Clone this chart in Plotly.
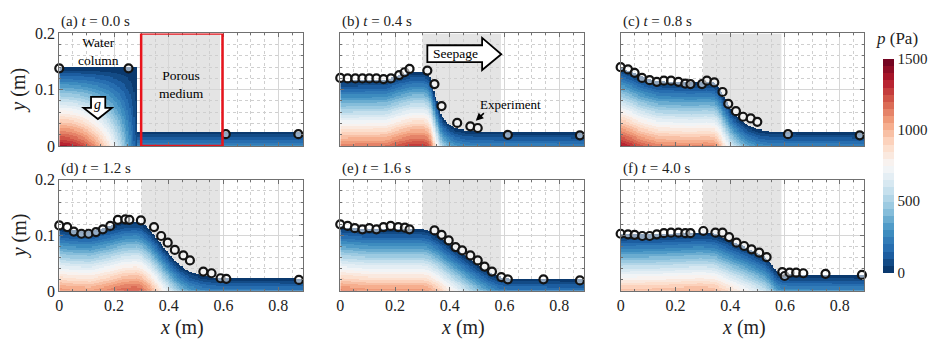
import numpy as np
import plotly.graph_objects as go

W, H = 930, 354
FONT = "Liberation Serif"

# ---------------- data ----------------
titles = ["(a) <i>t</i> = 0.0 s", "(b) <i>t</i> = 0.4 s", "(c) <i>t</i> = 0.8 s",
          "(d) <i>t</i> = 1.2 s", "(e) <i>t</i> = 1.6 s", "(f) <i>t</i> = 4.0 s"]

# simulated free-surface profiles (x in m, height in m)
surf_x_a = [0.0, 0.283, 0.2831, 0.89]
surf_h_a = [0.140, 0.140, 0.0265, 0.0265]
surf_x_b = [0.0, 0.166, 0.215, 0.263, 0.305, 0.324, 0.336, 0.348, 0.36, 0.372, 0.396, 0.421, 0.457, 0.505, 0.89]
surf_h_b = [0.1167, 0.118, 0.126, 0.132, 0.132, 0.126, 0.110, 0.087, 0.066, 0.052, 0.039, 0.032, 0.028, 0.0265, 0.025]
surf_x_c = [0.0, 0.027, 0.075, 0.136, 0.257, 0.312, 0.342, 0.36, 0.378, 0.402, 0.433, 0.463, 0.499, 0.548, 0.89]
surf_h_c = [0.140, 0.135, 0.124, 0.1155, 0.113, 0.1144, 0.113, 0.104, 0.087, 0.066, 0.049, 0.038, 0.030, 0.0265, 0.025]
surf_x_d = [0.0, 0.04, 0.113, 0.186, 0.235, 0.283, 0.30, 0.331, 0.368, 0.404, 0.44, 0.477, 0.525, 0.574, 0.89]
surf_h_d = [0.1126, 0.110, 0.1086, 0.1166, 0.1234, 0.125, 0.122, 0.1097, 0.0869, 0.064, 0.0457, 0.0343, 0.0269, 0.024, 0.0229]
surf_x_e = [0.0, 0.105, 0.30, 0.324, 0.36, 0.396, 0.433, 0.469, 0.505, 0.542, 0.578, 0.615, 0.89]
surf_h_e = [0.1154, 0.1114, 0.1114, 0.1086, 0.098, 0.084, 0.071, 0.058, 0.0457, 0.0343, 0.0257, 0.0229, 0.0217]
surf_x_f = [0.0, 0.136, 0.293, 0.342, 0.378, 0.415, 0.451, 0.487, 0.524, 0.548, 0.566, 0.59, 0.645, 0.89]
surf_h_f = [0.101, 0.102, 0.105, 0.103, 0.0954, 0.0869, 0.0794, 0.0709, 0.0611, 0.0497, 0.0366, 0.0297, 0.0286, 0.028]

# experiment points
exp_x_a = [0.0, 0.253, 0.608, 0.873]
exp_y_a = [0.138, 0.138, 0.021, 0.021]
exp_x_b = [0.0, 0.027, 0.055, 0.081, 0.106, 0.132, 0.158, 0.185, 0.215, 0.235, 0.253, 0.318, 0.344, 0.370, 0.427, 0.475, 0.502, 0.612, 0.875]
exp_y_b = [0.121, 0.120, 0.120, 0.120, 0.120, 0.120, 0.119, 0.120, 0.126, 0.131, 0.137, 0.134, 0.110, 0.071, 0.041, 0.035, 0.032, 0.020, 0.019]
exp_x_c = [0.0, 0.027, 0.051, 0.078, 0.106, 0.132, 0.158, 0.184, 0.211, 0.236, 0.255, 0.297, 0.315, 0.342, 0.372, 0.393, 0.421, 0.447, 0.475, 0.499, 0.611, 0.873]
exp_y_c = [0.140, 0.136, 0.130, 0.121, 0.117, 0.114, 0.116, 0.116, 0.114, 0.111, 0.110, 0.110, 0.116, 0.113, 0.096, 0.075, 0.062, 0.052, 0.049, 0.043, 0.021, 0.019]
exp_x_d = [0.0, 0.029, 0.053, 0.081, 0.107, 0.134, 0.159, 0.186, 0.214, 0.241, 0.256, 0.298, 0.346, 0.372, 0.396, 0.422, 0.453, 0.477, 0.526, 0.556, 0.589, 0.610, 0.875]
exp_y_d = [0.118, 0.115, 0.107, 0.103, 0.103, 0.106, 0.111, 0.117, 0.128, 0.129, 0.128, 0.127, 0.115, 0.099, 0.087, 0.074, 0.064, 0.055, 0.035, 0.032, 0.023, 0.022, 0.020]
exp_x_e = [0.0, 0.027, 0.053, 0.081, 0.106, 0.132, 0.158, 0.184, 0.212, 0.236, 0.253, 0.344, 0.370, 0.396, 0.421, 0.445, 0.475, 0.502, 0.527, 0.554, 0.588, 0.612, 0.742, 0.875]
exp_y_e = [0.120, 0.117, 0.113, 0.111, 0.113, 0.111, 0.115, 0.117, 0.115, 0.114, 0.111, 0.109, 0.101, 0.091, 0.079, 0.073, 0.064, 0.055, 0.044, 0.035, 0.025, 0.021, 0.021, 0.019]
exp_x_f = [0.0, 0.027, 0.051, 0.079, 0.106, 0.132, 0.158, 0.184, 0.211, 0.236, 0.255, 0.302, 0.346, 0.372, 0.396, 0.423, 0.451, 0.478, 0.506, 0.533, 0.590, 0.599, 0.617, 0.641, 0.667, 0.748, 0.881]
exp_y_f = [0.103, 0.102, 0.101, 0.099, 0.099, 0.102, 0.104, 0.105, 0.105, 0.104, 0.104, 0.108, 0.105, 0.105, 0.097, 0.087, 0.081, 0.075, 0.069, 0.061, 0.034, 0.027, 0.033, 0.033, 0.032, 0.031, 0.029]

porous_x = [0.3, 0.587]
x_range = [0, 0.89]
y_range = [0, 0.2]
p_ticks = [0, 500, 1000, 1500]

surf_x = [surf_x_a, surf_x_b, surf_x_c, surf_x_d, surf_x_e, surf_x_f]
surf_h = [surf_h_a, surf_h_b, surf_h_c, surf_h_d, surf_h_e, surf_h_f]
exp_x = [exp_x_a, exp_x_b, exp_x_c, exp_x_d, exp_x_e, exp_x_f]
exp_y = [exp_y_a, exp_y_b, exp_y_c, exp_y_d, exp_y_e, exp_y_f]

# ---------------- colour scale (discrete RdBu, 30 levels) ----------------
rdbu = ["#053061", "#2166ac", "#4393c3", "#92c5de", "#d1e5f0", "#f7f7f7",
        "#fddbc7", "#f4a582", "#d6604d", "#b2182b", "#67001f"]
def hex2rgb(h):
    return np.array([int(h[i:i + 2], 16) for i in (1, 3, 5)], float)
anchors = np.array([hex2rgb(c) for c in rdbu])
apos = np.linspace(0, 1, len(rdbu))
NL = 30
cscale = []
for i in range(NL):
    t = (i + 0.5) / NL
    rgb = [np.interp(t, apos, anchors[:, k]) for k in range(3)]
    col = "rgb(%d,%d,%d)" % tuple(int(round(v)) for v in rgb)
    cscale.append([i / NL, col])
    cscale.append([(i + 1) / NL, col])

# ---------------- layout geometry (pixels) ----------------
cols = [(55.5, 300.3), (337.7, 582.5), (619.3, 864.1)]
rows = [(26.7, 145.0), (180.5, 297.3)]

XC = np.linspace(0.0025, 0.8875, 178)
YC = np.linspace(0.001, 0.199, 100)
RHO_G = 1000 * 9.81

fig = go.Figure()
layout = dict(width=W, height=H, margin=dict(l=0, r=0, t=0, b=0),
              paper_bgcolor="white", plot_bgcolor="white", showlegend=False,
              font=dict(family=FONT, color="#222"))
shapes, annots = [], []

for i in range(6):
    r, c = divmod(i, 3)
    sfx = "" if i == 0 else str(i + 1)
    xa, ya = "x" + sfx, "y" + sfx
    x0p, x1p = cols[c]
    t0p, b0p = rows[r]
    axcommon = dict(showgrid=True, gridcolor="#d6d6d6", gridwidth=1, zeroline=False,
                    showline=True, linecolor="#707070", linewidth=1, mirror="ticks",
                    ticks="inside", ticklen=4, tickcolor="#707070",
                    tickfont=dict(family=FONT, size=16, color="#222"))
    layout["xaxis" + sfx] = dict(axcommon, domain=[x0p / W, x1p / W], anchor=ya,
                                 range=x_range, tick0=0, dtick=0.2,
                                 showticklabels=(r == 1),
                                 minor=dict(dtick=0.05, tick0=0, showgrid=True, gridcolor="#cfcfcf",
                                            griddash="dot", ticks="inside", ticklen=2, tickcolor="#707070"))
    layout["yaxis" + sfx] = dict(axcommon, domain=[1 - b0p / H, 1 - t0p / H], anchor=xa,
                                 range=y_range, tick0=0, dtick=0.1,
                                 showticklabels=(c == 0),
                                 minor=dict(dtick=0.02, tick0=0, showgrid=True, gridcolor="#cfcfcf",
                                            griddash="dot", ticks="inside", ticklen=2, tickcolor="#707070"))

    # porous region
    shapes.append(dict(type="rect", xref=xa, yref=ya, x0=porous_x[0], x1=porous_x[1],
                       y0=0, y1=0.2, fillcolor="#e4e4e4", line=dict(width=0), layer="below"))

    # pressure field under the free surface
    hx = np.interp(XC, surf_x[i], surf_h[i])
    Hh = hx[None, :]
    Y = YC[:, None]
    p = RHO_G * (Hh - Y)
    if i == 0:
        fac = np.where(XC < 0.283, 1 - (XC / 0.29) ** 2, 1.0)
        p = p * fac[None, :]
    p = np.where(Y <= Hh, np.clip(p, 0, 1500), np.nan)
    fig.add_trace(go.Heatmap(x=XC, y=YC, z=p, coloraxis="coloraxis", xaxis=xa, yaxis=ya,
                             hoverinfo="skip", zsmooth=False))

    fig.add_trace(go.Scatter(x=exp_x[i], y=exp_y[i], mode="markers", xaxis=xa, yaxis=ya,
                             marker=dict(symbol="circle", size=8, color="rgba(255,255,255,0.55)",
                                         line=dict(color="#141414", width=2.2)),
                             cliponaxis=False, hoverinfo="skip"))

    # panel title
    annots.append(dict(text=titles[i], xref="paper", yref="paper", x=x0p / W,
                       y=1 - (t0p - 12) / H, xanchor="left", yanchor="middle", showarrow=False,
                       font=dict(family=FONT, size=15, color="#222")))
    if r == 1:
        annots.append(dict(text="<i>x</i> (m)", xref="paper", yref="paper",
                           x=(x0p + 0.45 * 275) / W, y=1 - 336 / H, xanchor="center", yanchor="middle",
                           showarrow=False, font=dict(family=FONT, size=20, color="#222")))
    if c == 0:
        annots.append(dict(text="<i>y</i> (m)", xref="paper", yref="paper", textangle=-90,
                           x=15 / W, y=1 - (t0p + b0p) / 2 / H, xanchor="center", yanchor="middle",
                           showarrow=False, font=dict(family=FONT, size=20, color="#222")))

# panel (a) decorations
shapes.append(dict(type="rect", xref="x", yref="y", x0=0.299, x1=0.596, y0=0.0, y1=0.2,
                   line=dict(color="#e8141c", width=2.5), fillcolor="rgba(0,0,0,0)", layer="above"))
shapes.append(dict(type="path", xref="x", yref="y",
                   path="M 0.116 0.0874 L 0.168 0.0874 L 0.168 0.0676 L 0.192 0.0676 L 0.141 0.0479 "
                        "L 0.089 0.0676 L 0.116 0.0676 Z",
                   fillcolor="white", line=dict(color="black", width=1.8), layer="above"))
annots.append(dict(text="<i>g</i>", xref="x", yref="y", x=0.141, y=0.074, showarrow=False,
                   font=dict(family=FONT, size=14, color="black")))
annots.append(dict(text="Water<br>column", xref="x", yref="y", x=0.144, y=0.168, showarrow=False,
                   font=dict(family=FONT, size=13.5, color="black")))
annots.append(dict(text="Porous<br>medium", xref="x", yref="y", x=0.447, y=0.11, showarrow=False,
                   font=dict(family=FONT, size=13.5, color="black")))

# panel (b) decorations
shapes.append(dict(type="path", xref="x2", yref="y2",
                   path="M 0.318 0.179 L 0.518 0.179 L 0.518 0.192 L 0.588 0.163 L 0.518 0.135 "
                        "L 0.518 0.149 L 0.318 0.149 Z",
                   fillcolor="white", line=dict(color="black", width=1.8), layer="above"))
annots.append(dict(text="Seepage", xref="x2", yref="y2", x=0.42, y=0.164, showarrow=False,
                   font=dict(family=FONT, size=13.5, color="black")))
annots.append(dict(text="Experiment", xref="x2", yref="y2", x=0.62, y=0.073, showarrow=False,
                   font=dict(family=FONT, size=13, color="black")))
annots.append(dict(text="", xref="x2", yref="y2", x=0.495, y=0.045, ax=0.53, ay=0.061,
                   axref="x2", ayref="y2", showarrow=True, arrowhead=2, arrowsize=1,
                   arrowwidth=1.5, arrowcolor="black"))

# colour bar title
annots.append(dict(text="<i>p</i> (Pa)", xref="paper", yref="paper", x=874 / W, y=1 - 32 / H,
                   xanchor="left", yanchor="middle", showarrow=False,
                   font=dict(family=FONT, size=17, color="#222")))

layout["coloraxis"] = dict(colorscale=cscale, cmin=0, cmax=1500,
                           colorbar=dict(x=883 / W, xanchor="left", y=1 - 165.5 / H, yanchor="middle",
                                         len=225 / H, lenmode="fraction", thickness=11,
                                         thicknessmode="pixels", tickvals=p_ticks, ticks="",
                                         outlinewidth=0, xpad=0, ypad=0,
                                         tickfont=dict(family=FONT, size=15, color="#222")))
layout["shapes"] = shapes
layout["annotations"] = annots
fig.update_layout(**layout)
fig.write_html("out.html")
